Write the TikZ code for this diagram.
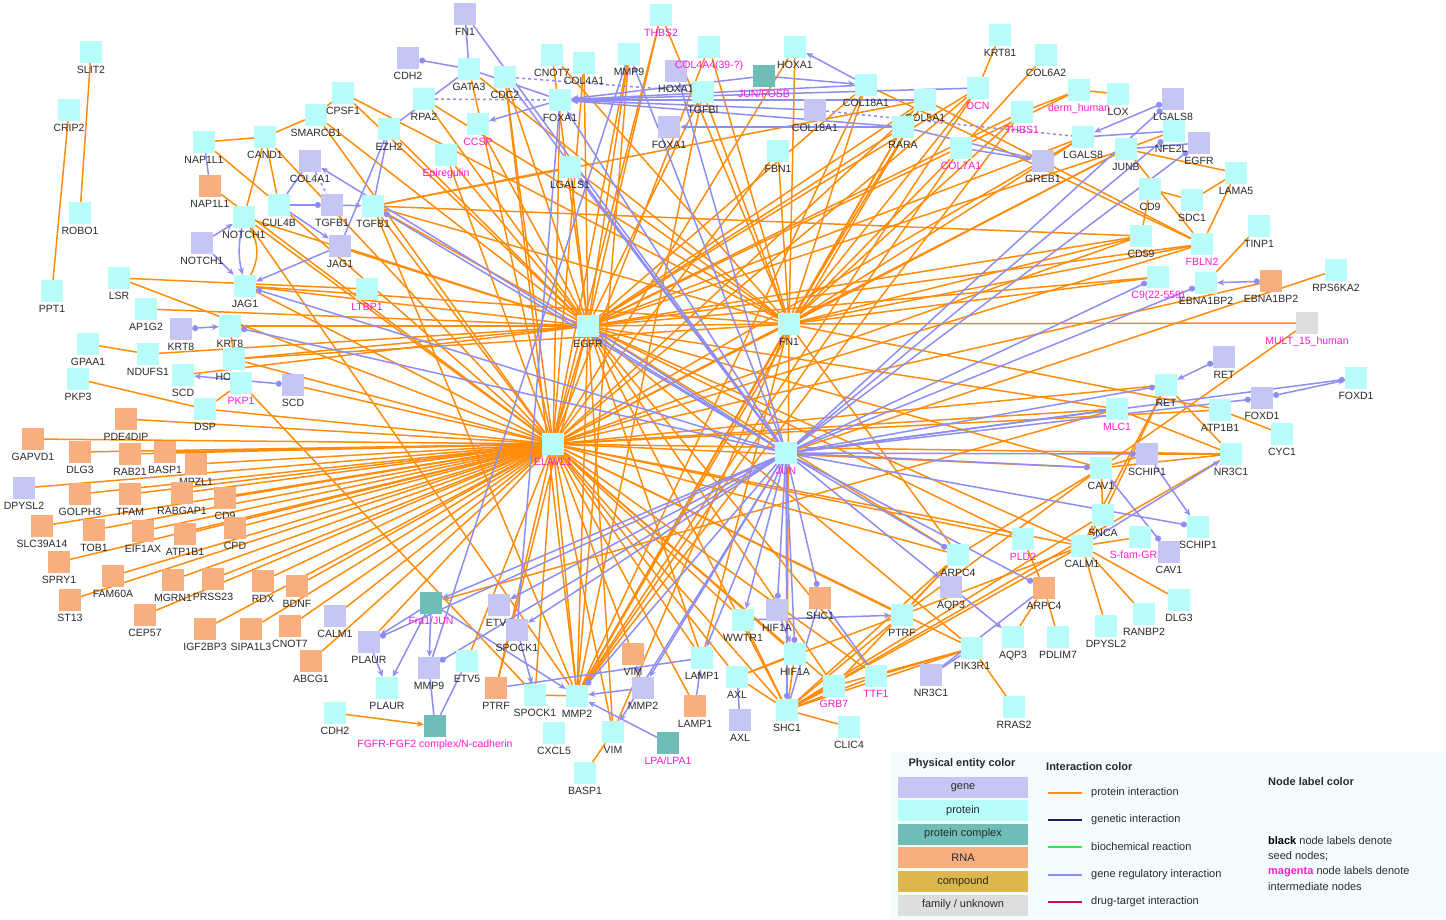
\documentclass[tikz,border=0pt]{standalone}
\usepackage{fontspec}
\setmainfont{Liberation Sans}
\usetikzlibrary{arrows.meta}
\pgfdeclarelayer{bg}
\pgfsetlayers{bg,main}
\definecolor{cgene}{HTML}{C6C6F4}
\definecolor{cprot}{HTML}{B8FDF9}
\definecolor{ccplx}{HTML}{6FBDB7}
\definecolor{crna}{HTML}{F9AE7F}
\definecolor{ccomp}{HTML}{DDB64E}
\definecolor{cfam}{HTML}{DEDEDE}
\definecolor{epi}{HTML}{FF8C0A}
\definecolor{ereg}{HTML}{8E8EF2}
\definecolor{egen}{HTML}{1E1E5A}
\definecolor{ebio}{HTML}{3CE63C}
\definecolor{edrug}{HTML}{D0104A}
\definecolor{mag}{HTML}{FF1AD0}
\definecolor{lblk}{HTML}{2A2A2A}
\definecolor{legbg}{HTML}{F4FDFD}
\newcommand{\mkn}[5]{\node[#1,label={[#5]below:#4}] (#2) at (#3) {};}
\begin{document}
\begin{tikzpicture}[x=1pt,y=-1pt,
  font=\fontsize{10.5}{12}\selectfont,
  label distance=2.5pt,
  base/.style={minimum size=22pt,inner sep=0pt,draw=none},
  gene/.style={base,fill=cgene},
  prot/.style={base,fill=cprot},
  cplx/.style={base,fill=ccplx},
  rna/.style={base,fill=crna},
  fam/.style={base,fill=cfam},
  labk/.style={text=lblk,inner sep=0pt,text height=7.6pt,text depth=2pt},
  labm/.style={text=mag,inner sep=0pt,text height=7.6pt,text depth=2pt},
  pi/.style={draw=epi,line width=1.5pt},
  piA/.style={pi,-{Stealth[length=7pt,width=6pt]}},
  rg/.style={draw=ereg,line width=1.5pt},
  rgA/.style={rg,-{Stealth[length=7pt,width=6pt]}},
  rgD/.style={rg,-{Circle[length=6pt]}},
  rgDs/.style={rg,{Circle[length=6pt]}-},
  rgDA/.style={rg,{Circle[length=6pt]}-{Stealth[length=7pt,width=6pt]}},
  rgdash/.style={rg,dashed},
  legtxt/.style={text=lblk,font=\fontsize{11}{13}\selectfont,inner sep=0pt},
  legbold/.style={text=lblk,font=\bfseries\fontsize{11}{13}\selectfont,inner sep=0pt},
  swatch/.style={minimum width=130pt,minimum height=21pt,inner sep=0pt,text=lblk,font=\fontsize{11}{13}\selectfont}
]
\useasboundingbox (0,0) rectangle (1446,919);
\begin{pgfonlayer}{bg}
\fill[white] (0,0) rectangle (1446,919);
\end{pgfonlayer}
% ---------- nodes: top-left
\mkn{prot}{SLIT2}{91,52}{SLIT2}{labk}
\mkn{prot}{CRIP2}{69,110}{CRIP2}{labk}
\mkn{prot}{ROBO1}{80,213}{ROBO1}{labk}
\mkn{prot}{PPT1}{52,291}{PPT1}{labk}
\mkn{prot}{NAP1L1p}{204,142}{NAP1L1}{labk}
\mkn{prot}{CAND1}{265,137}{CAND1}{labk}
\mkn{prot}{SMARCB1}{316,115}{SMARCB1}{labk}
\mkn{prot}{CPSF1}{343,93}{CPSF1}{labk}
\mkn{gene}{COL4A1g}{310,161}{COL4A1}{labk}
\mkn{rna}{NAP1L1r}{210,186}{NAP1L1}{labk}
\mkn{prot}{CUL4B}{279,205}{CUL4B}{labk}
\mkn{gene}{TGFB1g}{332,205}{TGFB1}{labk}
\mkn{prot}{TGFB1p}{373,206}{TGFB1}{labk}
\mkn{prot}{NOTCH1p}{244,217}{NOTCH1}{labk}
\mkn{gene}{NOTCH1g}{202,243}{NOTCH1}{labk}
\mkn{gene}{JAG1g}{340,246}{JAG1}{labk}
\mkn{prot}{JAG1p}{245,286}{JAG1}{labk}
\mkn{prot}{LSR}{119,278}{LSR}{labk}
\mkn{prot}{LTBP1}{367,289}{LTBP1}{labm}
% top centre
\mkn{gene}{FN1g}{465,14}{FN1}{labk}
\mkn{gene}{CDH2g}{408,58}{CDH2}{labk}
\mkn{prot}{GATA3}{469,69}{GATA3}{labk}
\mkn{prot}{CDC2}{505,77}{CDC2}{labk}
\mkn{prot}{CNOT7p}{552,55}{CNOT7}{labk}
\mkn{prot}{COL4A1p}{584,63}{COL4A1}{labk}
\mkn{prot}{MMP9p}{629,54}{MMP9}{labk}
\mkn{prot}{THBS2}{661,15}{THBS2}{labm}
\mkn{gene}{HOXA1g}{676,71}{HOXA1}{labk}
\mkn{prot}{COL4A4}{709,47}{COL4A4(39-?)}{labm}
\mkn{prot}{TGFBI}{703,92}{TGFBI}{labk}
\mkn{prot}{RPA2}{424,99}{RPA2}{labk}
\mkn{prot}{FOXA1p}{560,100}{FOXA1}{labk}
\mkn{prot}{EZH2}{389,129}{EZH2}{labk}
\mkn{prot}{CCSP}{478,124}{CCSP}{labm}
\mkn{gene}{FOXA1g}{669,127}{FOXA1}{labk}
\mkn{prot}{Epiregulin}{446,155}{Epiregulin}{labm}
\mkn{prot}{LGALS1}{570,167}{LGALS1}{labk}
% top right
\mkn{prot}{HOXA1p}{795,47}{HOXA1}{labk}
\mkn{cplx}{JUNFOSB}{764,76}{JUN/FOSB}{labm}
\mkn{prot}{COL18A1p}{866,85}{COL18A1}{labk}
\mkn{gene}{COL18A1g}{815,110}{COL18A1}{labk}
\mkn{prot}{COL5A1}{925,100}{COL5A1}{labk}
\mkn{prot}{RARA}{903,127}{RARA}{labk}
\mkn{prot}{FBN1}{778,151}{FBN1}{labk}
\mkn{prot}{KRT81}{1000,35}{KRT81}{labk}
\mkn{prot}{COL6A2}{1046,55}{COL6A2}{labk}
\mkn{prot}{DCN}{978,88}{DCN}{labm}
\mkn{prot}{THBS1}{1022,112}{THBS1}{labm}
\mkn{prot}{derm}{1079,90}{derm\_human}{labm}
\mkn{prot}{COL7A1}{961,148}{COL7A1}{labm}
\mkn{gene}{GREB1}{1043,161}{GREB1}{labk}
\mkn{prot}{LGALS8p}{1083,137}{LGALS8}{labk}
\mkn{prot}{LOX}{1118,94}{LOX}{labk}
\mkn{gene}{LGALS8g}{1173,99}{LGALS8}{labk}
\mkn{prot}{NFE2L1}{1174,131}{NFE2L1}{labk}
\mkn{gene}{EGFRg}{1199,143}{EGFR}{labk}
\mkn{prot}{JUNB}{1126,149}{JUNB}{labk}
\mkn{prot}{LAMA5}{1236,173}{LAMA5}{labk}
\mkn{prot}{CD9p}{1150,189}{CD9}{labk}
\mkn{prot}{SDC1}{1192,200}{SDC1}{labk}
\mkn{prot}{TINP1}{1259,226}{TINP1}{labk}
\mkn{prot}{CD59}{1141,236}{CD59}{labk}
\mkn{prot}{FBLN2}{1202,244}{FBLN2}{labm}
\mkn{prot}{C9}{1158,277}{C9(22-559)}{labm}
\mkn{prot}{EBNA1BP2p}{1206,283}{EBNA1BP2}{labk}
\mkn{rna}{EBNA1BP2r}{1271,281}{EBNA1BP2}{labk}
\mkn{prot}{RPS6KA2}{1336,270}{RPS6KA2}{labk}
\mkn{fam}{MULT15}{1307,323}{MULT\_15\_human}{labm}
% right
\mkn{gene}{RETg}{1224,357}{RET}{labk}
\mkn{prot}{RETp}{1166,385}{RET}{labk}
\mkn{prot}{FOXD1p}{1356,378}{FOXD1}{labk}
\mkn{gene}{FOXD1g}{1262,398}{FOXD1}{labk}
\mkn{prot}{ATP1B1p}{1220,410}{ATP1B1}{labk}
\mkn{prot}{MLC1}{1117,409}{MLC1}{labm}
\mkn{prot}{CYC1}{1282,434}{CYC1}{labk}
\mkn{gene}{SCHIP1g}{1147,454}{SCHIP1}{labk}
\mkn{prot}{NR3C1p}{1231,454}{NR3C1}{labk}
\mkn{prot}{CAV1p}{1101,468}{CAV1}{labk}
\mkn{prot}{SNCA}{1103,515}{SNCA}{labk}
\mkn{prot}{SCHIP1p}{1198,527}{SCHIP1}{labk}
\mkn{prot}{SFAM}{1140,537}{S-fam-GRK1}{labm}
\mkn{gene}{CAV1g}{1169,552}{CAV1}{labk}
\mkn{prot}{CALM1p}{1082,546}{CALM1}{labk}
\mkn{prot}{DLG3p}{1179,600}{DLG3}{labk}
\mkn{prot}{RANBP2}{1144,614}{RANBP2}{labk}
\mkn{prot}{DPYSL2p}{1106,626}{DPYSL2}{labk}
% centre
\mkn{prot}{EGFRp}{588,326}{EGFR}{labk}
\mkn{prot}{ELAVL1}{553,444}{ELAVL1}{labm}
\mkn{prot}{FN1p}{789,324}{FN1}{labk}
\mkn{prot}{JUN}{786,453}{JUN}{labm}
\mkn{prot}{ARPC4p}{958,555}{ARPC4}{labk}
\mkn{prot}{PLD2}{1023,539}{PLD2}{labm}
\mkn{gene}{AQP3g}{951,587}{AQP3}{labk}
\mkn{rna}{ARPC4r}{1044,588}{ARPC4}{labk}
\mkn{prot}{WWTR1}{743,620}{WWTR1}{labk}
\mkn{gene}{HIF1Ag}{777,610}{HIF1A}{labk}
\mkn{rna}{SHC1r}{820,598}{SHC1}{labk}
\mkn{prot}{PTRFp}{902,615}{PTRF}{labk}
\mkn{prot}{HIF1Ap}{795,654}{HIF1A}{labk}
\mkn{prot}{PIK3R1}{972,648}{PIK3R1}{labk}
\mkn{prot}{AQP3p}{1013,637}{AQP3}{labk}
\mkn{prot}{PDLIM7}{1058,637}{PDLIM7}{labk}
\mkn{prot}{AXLp}{737,677}{AXL}{labk}
\mkn{prot}{GRB7}{834,686}{GRB7}{labm}
\mkn{prot}{TTF1}{876,676}{TTF1}{labm}
\mkn{gene}{NR3C1g}{931,675}{NR3C1}{labk}
\mkn{prot}{SHC1p}{787,710}{SHC1}{labk}
\mkn{gene}{AXLg}{740,720}{AXL}{labk}
\mkn{prot}{CLIC4}{849,727}{CLIC4}{labk}
\mkn{prot}{RRAS2}{1014,707}{RRAS2}{labk}
% bottom centre
\mkn{cplx}{FRA1}{431,603}{Fra1/JUN}{labm}
\mkn{gene}{ETV5g}{499,605}{ETV5}{labk}
\mkn{gene}{SPOCK1g}{517,630}{SPOCK1}{labk}
\mkn{gene}{PLAURg}{369,642}{PLAUR}{labk}
\mkn{gene}{MMP9g}{429,668}{MMP9}{labk}
\mkn{prot}{ETV5p}{467,661}{ETV5}{labk}
\mkn{prot}{PLAURp}{387,688}{PLAUR}{labk}
\mkn{rna}{PTRFr}{496,688}{PTRF}{labk}
\mkn{prot}{SPOCK1p}{535,695}{SPOCK1}{labk}
\mkn{prot}{MMP2p}{577,696}{MMP2}{labk}
\mkn{rna}{VIMr}{633,654}{VIM}{labk}
\mkn{gene}{MMP2g}{643,688}{MMP2}{labk}
\mkn{prot}{LAMP1p}{702,658}{LAMP1}{labk}
\mkn{rna}{LAMP1r}{695,706}{LAMP1}{labk}
\mkn{cplx}{FGFR}{435,726}{FGFR-FGF2 complex/N-cadherin}{labm}
\mkn{prot}{CXCL5}{554,733}{CXCL5}{labk}
\mkn{prot}{VIMp}{613,732}{VIM}{labk}
\mkn{cplx}{LPA}{668,743}{LPA/LPA1}{labm}
\mkn{prot}{BASP1p}{585,773}{BASP1}{labk}
% bottom left
\mkn{rna}{ST13}{70,600}{ST13}{labk}
\mkn{rna}{CEP57}{145,615}{CEP57}{labk}
\mkn{rna}{IGF2BP3}{205,629}{IGF2BP3}{labk}
\mkn{rna}{SIPA1L3}{251,629}{SIPA1L3}{labk}
\mkn{rna}{CNOT7r}{290,626}{CNOT7}{labk}
\mkn{gene}{CALM1g}{335,616}{CALM1}{labk}
\mkn{rna}{ABCG1}{311,661}{ABCG1}{labk}
\mkn{prot}{CDH2p}{335,713}{CDH2}{labk}
% left
\mkn{prot}{AP1G2}{146,309}{AP1G2}{labk}
\mkn{gene}{KRT8g}{181,329}{KRT8}{labk}
\mkn{prot}{KRT8p}{230,326}{KRT8}{labk}
\mkn{prot}{GPAA1}{88,344}{GPAA1}{labk}
\mkn{prot}{NDUFS1}{148,354}{NDUFS1}{labk}
\mkn{prot}{HOOK2}{234,359}{HOOK2}{labk}
\mkn{prot}{PKP3}{78,379}{PKP3}{labk}
\mkn{prot}{SCDp}{183,375}{SCD}{labk}
\mkn{prot}{PKP1}{241,383}{PKP1}{labm}
\mkn{gene}{SCDg}{293,385}{SCD}{labk}
\mkn{prot}{DSP}{205,409}{DSP}{labk}
\mkn{rna}{PDE4DIP}{126,419}{PDE4DIP}{labk}
\mkn{rna}{GAPVD1}{33,439}{GAPVD1}{labk}
\mkn{rna}{DLG3r}{80,452}{DLG3}{labk}
\mkn{rna}{RAB21}{130,454}{RAB21}{labk}
\mkn{rna}{BASP1r}{165,452}{BASP1}{labk}
\mkn{rna}{MPZL1}{196,464}{MPZL1}{labk}
\mkn{gene}{DPYSL2g}{24,488}{DPYSL2}{labk}
\mkn{rna}{GOLPH3}{80,494}{GOLPH3}{labk}
\mkn{rna}{TFAM}{130,494}{TFAM}{labk}
\mkn{rna}{RABGAP1}{182,493}{RABGAP1}{labk}
\mkn{rna}{CD9r}{225,498}{CD9}{labk}
\mkn{rna}{SLC39A14}{42,526}{SLC39A14}{labk}
\mkn{rna}{TOB1}{94,530}{TOB1}{labk}
\mkn{rna}{EIF1AX}{143,531}{EIF1AX}{labk}
\mkn{rna}{ATP1B1r}{185,534}{ATP1B1}{labk}
\mkn{rna}{CPD}{235,528}{CPD}{labk}
\mkn{rna}{SPRY1}{59,562}{SPRY1}{labk}
\mkn{rna}{FAM60A}{113,576}{FAM60A}{labk}
\mkn{rna}{MGRN1}{173,580}{MGRN1}{labk}
\mkn{rna}{PRSS23}{213,579}{PRSS23}{labk}
\mkn{rna}{RDX}{263,581}{RDX}{labk}
\mkn{rna}{BDNF}{297,586}{BDNF}{labk}
% ---------- edges
\begin{pgfonlayer}{bg}
\foreach \a in {PDE4DIP,GAPVD1,DLG3r,RAB21,BASP1r,MPZL1,DPYSL2g,GOLPH3,TFAM,RABGAP1,CD9r,SLC39A14,TOB1,EIF1AX,ATP1B1r,CPD,SPRY1,FAM60A,MGRN1,PRSS23,RDX,BDNF,ST13,CEP57,IGF2BP3,SIPA1L3,CNOT7r,ABCG1,CALM1g,NAP1L1r,LSR,DSP,HOOK2,SCDg}
  \draw[pi] (\a) -- (ELAVL1);
\foreach \a in {NOTCH1p,JAG1p,TGFB1p,CUL4B,SMARCB1,CAND1,GATA3,CDC2,FOXA1p,COL4A1p,MMP9p,THBS2,HOXA1p,DCN,COL5A1,COL4A4,Epiregulin,FBN1,LGALS8p,JUNB,CD59,FBLN2,EBNA1BP2r,RETp,ATP1B1p,NR3C1p,CAV1p,MLC1,ARPC4p,PLD2,CALM1p,PTRFp,SHC1p,GRB7,TTF1,HIF1Ap,AXLp,WWTR1,LAMP1p,LAMP1r,MMP2p,VIMp,SPOCK1p,PTRFr,PLAURg,ETV5p,VIMr,EGFRp,FN1p,PIK3R1}
  \draw[pi] (ELAVL1) -- (\a);
\foreach \a in {AP1G2,NDUFS1,KRT8p,HOOK2,SCDp,TGFB1p,SMARCB1,CPSF1,EZH2,RPA2,CDC2,CNOT7p,Epiregulin,CCSP,COL4A1p,MMP9p,THBS2,TGFBI,COL18A1p,COL5A1,RARA,DCN,THBS1,derm,LGALS8p,JUNB,CD59,FBLN2,C9,MLC1,CAV1p,CALM1p,ARPC4p,PLD2,PIK3R1,GRB7,TTF1,SHC1p,LAMP1p,VIMp,MMP2p,PTRFr,JAG1p,JAG1g,NOTCH1p,FN1p,LGALS1}
  \draw[pi] (EGFRp) -- (\a);
\foreach \a in {CPSF1,RPA2,GATA3,CNOT7p,THBS2,COL4A4,TGFBI,HOXA1p,COL18A1p,COL5A1,RARA,FBN1,DCN,THBS1,COL7A1,LGALS1,LGALS8p,JUNB,CD59,FBLN2,C9,MULT15,ATP1B1p,TGFB1p,JAG1p,HOOK2,MMP2p,VIMp,SHC1p,LAMP1p,ARPC4p}
  \draw[pi] (FN1p) -- (\a);
\foreach \a/\b in {SLIT2/ROBO1,CRIP2/PPT1,NAP1L1p/CAND1,CAND1/SMARCB1,CAND1/CUL4B,CAND1/NOTCH1p,NAP1L1p/CUL4B,SMARCB1/CPSF1,LSR/LTBP1,GPAA1/NDUFS1,KRT8p/HOOK2,PKP3/DSP,PKP1/DSP,PKP1/SPOCK1p,NOTCH1p/MMP2p,TGFB1p/LGALS1,TGFB1p/COL5A1,TGFB1p/CD59,TGFB1p/MMP2p,CDC2/MMP2p,MMP9p/MMP2p,TGFBI/MMP2p,COL5A1/MMP2p,THBS1/MMP2p,COL7A1/MMP2p,COL18A1p/MMP2p,RARA/MMP2p,DCN/MMP2p,KRT81/DCN,COL6A2/COL7A1,derm/LOX,derm/THBS1,JUNB/LAMA5,NFE2L1/JUNB,LAMA5/SDC1,SDC1/CD9p,CD9p/CD59,LAMA5/FBLN2,JUNB/FBLN2,COL5A1/FBLN2,COL18A1p/FBLN2,TINP1/EBNA1BP2p,MULT15/CAV1p,RPS6KA2/JUN,RETp/SNCA,RETp/CALM1p,ATP1B1p/CYC1,NR3C1p/SCHIP1g,NR3C1p/MLC1,NR3C1p/CAV1p,NR3C1p/RETp,NR3C1p/SHC1p,CAV1p/SNCA,SNCA/CALM1p,CALM1p/RANBP2,CALM1p/DPYSL2p,CALM1p/PTRFp,CALM1p/SHC1p,SNCA/SHC1p,SCHIP1g/CAV1p,CAV1p/ARPC4p,CAV1p/PTRFp,PLD2/ARPC4r,ARPC4r/PDLIM7,ARPC4r/AQP3p,ARPC4p/SHC1p,ARPC4p/GRB7,ARPC4p/PTRFp,SFAM/CALM1p,DLG3p/CALM1p,PIK3R1/RRAS2,PIK3R1/GRB7,PIK3R1/SHC1p,PIK3R1/TTF1,SHC1p/CLIC4,SHC1p/GRB7,SHC1p/AXLp,SHC1p/PTRFp,SHC1p/WWTR1,SHC1p/TTF1,SHC1p/HIF1Ap,PTRFp/AXLp,HIF1Ap/AXLp,VIMp/BASP1p,MMP2p/SPOCK1p}
  \draw[pi] (\a) -- (\b);
\draw[pi] (NOTCH1p) to[bend left=28] (JAG1p);
\draw[piA] (CDH2p) -- (FGFR);
\draw[piA] (MLC1) -- (FRA1);
% gene regulatory
\foreach \a/\b in {NAP1L1p/NAP1L1r,COL4A1g/CUL4B,GATA3/EZH2,EZH2/TGFB1p,EZH2/JAG1g,FN1g/GATA3,MMP9p/MMP9g,FOXA1p/SPOCK1g,CDC2/JUN,EGFRg/JUNB,NFE2L1/LGALS8p,SHC1r/TTF1,ARPC4r/NR3C1g,NR3C1g/PIK3R1,AXLg/AXLp,SHC1r/SHC1p,ETV5p/FGFR,MMP9g/FGFR,LAMP1p/PTRFr,FN1g/JUN,GATA3/FOXA1p}
  \draw[rg] (\a) -- (\b);
\draw[rgDs] (CDH2g) -- (GATA3);
\draw[rgD] (CUL4B) -- (TGFB1g);
\foreach \a/\b in {NOTCH1g/NOTCH1p,NOTCH1g/JAG1p,CUL4B/JAG1g,JAG1g/JAG1p,TGFB1g/TGFB1p,FOXA1p/CCSP,JUNFOSB/FOXA1p,COL18A1g/FOXA1p,COL18A1p/FOXA1p,RARA/FOXA1p,COL5A1/FOXA1p,DCN/FOXA1p,RARA/FOXA1g,COL18A1p/HOXA1p,JUNFOSB/COL18A1p,RARA/GREB1,COL7A1/GREB1,SCHIP1g/SCHIP1p,CALM1p/NR3C1p,AQP3g/AQP3p,HIF1Ag/HIF1Ap,WWTR1/PTRFp,PLAURg/PLAURp,FRA1/PLAURg,FRA1/MMP9g,FRA1/PLAURp,SPOCK1g/SPOCK1p,MMP2g/MMP2p,LPA/MMP2p,MMP2g/VIMr,LAMP1r/LAMP1p,FRA1/MMP2p}
  \draw[rgA] (\a) -- (\b);
\draw[rgA] (NOTCH1p) to[bend right=12] (JAG1p);
\foreach \a/\b in {KRT8g/KRT8p,SCDg/SCDp,LGALS8g/LGALS8p,EBNA1BP2r/EBNA1BP2p,RETg/RETp,FOXD1g/FOXD1p,CAV1g/CAV1p}
  \draw[rgDA] (\a) -- (\b);
\foreach \a in {RETp,FOXD1g,FOXD1p,SCHIP1g,CAV1p,SCHIP1p,ARPC4p,ARPC4r,HIF1Ag,SHC1r,MMP2p,C9,EBNA1BP2p,KRT8p,JAG1p,TGFB1p,LGALS8g,NFE2L1,EGFRg,MMP9g,PLAURg,HIF1Ap,SHC1p}
  \draw[rgD] (JUN) -- (\a);
\foreach \a in {EGFRp,FOXA1p,HOXA1g,COL4A1g,LGALS1,MLC1,AQP3g,VIMp,LAMP1p,WWTR1,MMP2g,FRA1,ETV5g,SPOCK1g,MMP9p}
  \draw[rgA] (JUN) -- (\a);
\foreach \a/\b in {COL4A1g/TGFB1g,CDC2/TGFBI,COL18A1g/LGALS8p,RPA2/FOXA1p}
  \draw[rgdash] (\a) -- (\b);
\end{pgfonlayer}
% ---------- legend
\fill[legbg] (891,752) rectangle (1446,919);
\node[legbold] (lgA) at (962,764) {Physical entity color};
\node[swatch,fill=cgene] (sw1) at (963,787.5) {gene};
\node[swatch,fill=cprot] (sw2) at (963,810.5) {protein};
\node[swatch,fill=ccplx] (sw3) at (963,834) {protein complex};
\node[swatch,fill=crna] (sw4) at (963,857.5) {RNA};
\node[swatch,fill=ccomp] (sw5) at (963,881.5) {compound};
\node[swatch,fill=cfam] (sw6) at (963,905) {family / unknown};
\node[legbold,anchor=west] (lgB) at (1046,767) {Interaction color};
\foreach \yy/\cc/\tt [count=\i] in {793/epi/protein interaction,820/egen/genetic interaction,847/ebio/biochemical reaction,875/ereg/gene regulatory interaction,902/edrug/drug-target interaction}{
  \coordinate (la\i) at (1048,\yy);
  \coordinate (lb\i) at (1082,\yy);
  \draw[draw=\cc,line width=1.5pt] (la\i) -- (lb\i);
  \node[legtxt,anchor=west] (lt\i) at (1091,\yy) {\tt};
}
\node[legbold,anchor=west] (lgC) at (1268,782) {Node label color};
\node[legtxt,anchor=west] (nl1) at (1268,841) {{\color{black}\bfseries black} node labels denote};
\node[legtxt,anchor=west] (nl2) at (1268,856) {seed nodes;};
\node[legtxt,anchor=west] (nl3) at (1268,872) {{\color{mag}\bfseries magenta} node labels denote};
\node[legtxt,anchor=west] (nl4) at (1268,887) {intermediate nodes};
\end{tikzpicture}
\end{document}
